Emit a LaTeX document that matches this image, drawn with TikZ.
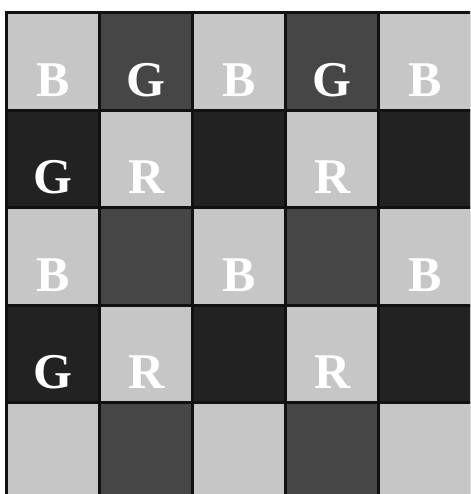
\documentclass[tikz,border=0pt]{standalone}
\usepackage{fontspec}
\setmainfont{Liberation Serif}
\usetikzlibrary{positioning}
\definecolor{paleGrey}{RGB}{198,198,198}
\definecolor{slateGrey}{RGB}{70,70,70}
\definecolor{inkGrey}{RGB}{34,34,34}
\definecolor{edgeGrey}{RGB}{17,17,17}

\begin{document}
\begin{tikzpicture}[x=1pt,y=-1pt,
        cell/.style={draw=edgeGrey,line width=3pt,outer sep=0pt,inner sep=0pt,minimum width=93pt,minimum height=97.5pt,
          text height=70pt,text depth=0pt,text=white,font=\fontsize{50}{50}\selectfont\bfseries},
        pale/.style={cell,fill=paleGrey},
        slate/.style={cell,fill=slateGrey},
        ink/.style={cell,fill=inkGrey}
      ]
        \useasboundingbox (0,0) rectangle (470,494);
        \clip (0,0) rectangle (470,494);
        % row 1
        \node[pale] (c11) at (53.2,61.45) {B};
        \node[slate,right=0pt of c11] (c12) {G};
        \node[pale,right=0pt of c12] (c13) {B};
        \node[slate,right=0pt of c13] (c14) {G};
        \node[pale,right=0pt of c14] (c15) {B};
        % row 2
        \node[ink,below=0pt of c11] (c21) {G};
        \node[pale,right=0pt of c21] (c22) {R};
        \node[ink,right=0pt of c22] (c23) {};
        \node[pale,right=0pt of c23] (c24) {R};
        \node[ink,right=0pt of c24] (c25) {};
        % row 3
        \node[pale,below=0pt of c21] (c31) {B};
        \node[slate,right=0pt of c31] (c32) {};
        \node[pale,right=0pt of c32] (c33) {B};
        \node[slate,right=0pt of c33] (c34) {};
        \node[pale,right=0pt of c34] (c35) {B};
        % row 4
        \node[ink,below=0pt of c31] (c41) {G};
        \node[pale,right=0pt of c41] (c42) {R};
        \node[ink,right=0pt of c42] (c43) {};
        \node[pale,right=0pt of c43] (c44) {R};
        \node[ink,right=0pt of c44] (c45) {};
        % row 5
        \node[pale,below=0pt of c41] (c51) {};
        \node[slate,right=0pt of c51] (c52) {};
        \node[pale,right=0pt of c52] (c53) {};
        \node[slate,right=0pt of c53] (c54) {};
        \node[pale,right=0pt of c54] (c55) {};
      \end{tikzpicture}
\end{document}
